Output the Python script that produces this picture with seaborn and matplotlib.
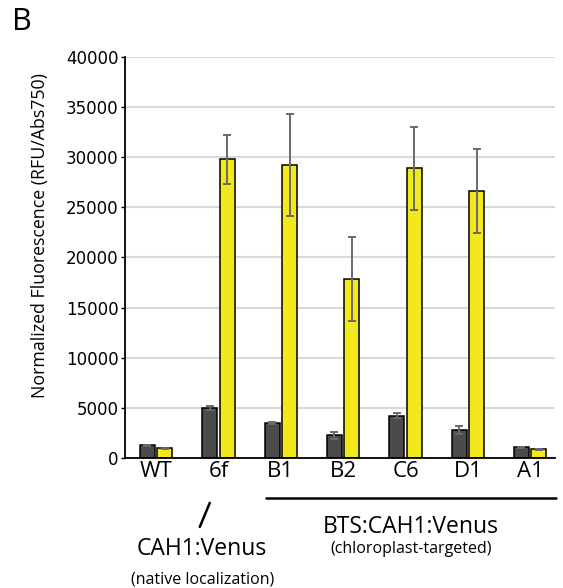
import matplotlib
matplotlib.use("Agg")
import matplotlib.pyplot as plt
import seaborn as sns
import pandas as pd

# ---- data ----
categories = ["WT", "6f", "B1", "B2", "C6", "D1", "A1"]
series_names = ["Series 1", "Series 2"]
dark_values = [1250, 5030, 3490, 2250, 4210, 2790, 1060]
dark_errors = [60, 200, 130, 370, 270, 360, 65]
yellow_values = [950, 29800, 29250, 17850, 28880, 26650, 860]
yellow_errors = [60, 2450, 5100, 4200, 4150, 4200, 65]
y_ticks = [0, 5000, 10000, 15000, 20000, 25000, 30000, 35000, 40000]

df = pd.DataFrame({
    "category": categories * 2,
    "series": [series_names[0]] * len(categories) + [series_names[1]] * len(categories),
    "value": dark_values + yellow_values,
})

sns.set_style("white")
plt.rcParams["font.family"] = ["Open Sans", "DejaVu Sans"]
plt.rcParams["text.color"] = "black"
plt.rcParams["xtick.color"] = "black"
plt.rcParams["ytick.color"] = "black"
plt.rcParams["axes.labelcolor"] = "black"

fig = plt.figure(figsize=(5.63, 5.88), dpi=100)
ax = fig.add_axes([0.222, 0.2211, 0.764, 0.682])

dark_col = "#4b4b4b"
yellow_col = "#f2e81c"

sns.barplot(data=df, x="category", y="value", hue="series", order=categories,
            hue_order=series_names, palette=[dark_col, yellow_col],
            saturation=1, width=0.56, gap=0.15, edgecolor="black", linewidth=1.1,
            errorbar=None, legend=False, ax=ax, zorder=3)

for cont, errs in zip(ax.containers, [dark_errors, yellow_errors]):
    xs = [p.get_x() + p.get_width() / 2 for p in cont.patches]
    ys = [p.get_height() for p in cont.patches]
    ax.errorbar(xs, ys, yerr=errs, fmt="none", ecolor="#6a6a6a",
                elinewidth=1.4, capsize=3, capthick=1.4, zorder=4)

ax.set_xlim(-0.5, 6.4)
ax.set_ylim(0, 40000)
ax.set_yticks(y_ticks)
ax.set_yticklabels([str(t) for t in y_ticks], family="DejaVu Sans")
ax.set_xlabel("")
ax.set_ylabel("")
ax.yaxis.grid(True, color="#d9d9d9", linewidth=1.5, zorder=0)
ax.set_axisbelow(True)
for s in ["top", "right"]:
    ax.spines[s].set_visible(False)
for s in ["left", "bottom"]:
    ax.spines[s].set_color("black")
    ax.spines[s].set_linewidth(1.3)
ax.spines["bottom"].set_zorder(5)

ax.tick_params(axis="y", direction="out", length=3, width=1, color="black",
               pad=1.5, labelsize=12, left=True, labelcolor="black")
ax.tick_params(axis="x", length=0, pad=2.5, labelsize=16, labelcolor="black")

fig.text(40 / 563, 1 - 236 / 588, "Normalized Fluorescence (RFU/Abs750)",
         rotation=90, ha="center", va="center", fontsize=12.8, color="black")
fig.text(12 / 563, 1 - 22 / 588, "B", ha="left", va="center", fontsize=22,
         color="black")

trans = ax.get_xaxis_transform()
ax.plot([1.757, 6.42], [-0.0998, -0.0998], color="black", lw=1.8,
        transform=trans, clip_on=False)
ax.plot([0.86, 0.70], [-0.112, -0.172], color="black", lw=1.8,
        transform=trans, clip_on=False)
ax.text(0.726, -0.226, "CAH1:Venus", transform=trans, ha="center", va="center",
        fontsize=16.5, color="black")
ax.text(0.748, -0.304, "(native localization)", transform=trans, ha="center",
        va="center", fontsize=11.5, color="black")
ax.text(4.09, -0.172, "BTS:CAH1:Venus", transform=trans, ha="center",
        va="center", fontsize=16.5, color="black")
ax.text(4.09, -0.226, "(chloroplast-targeted)", transform=trans, ha="center",
        va="center", fontsize=11.5, color="black")

fig.savefig("out.png", dpi=100)
